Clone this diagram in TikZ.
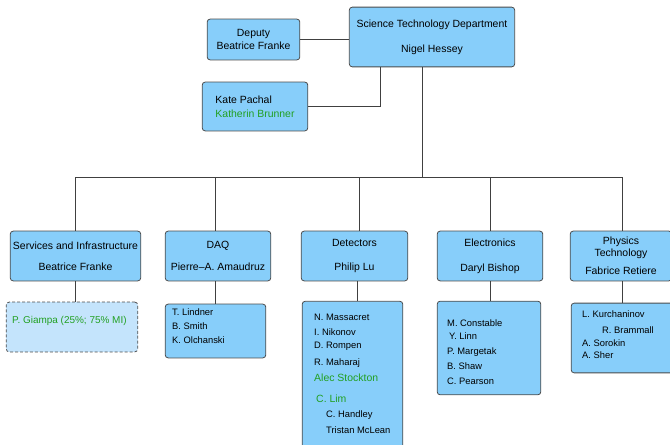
\documentclass[tikz,border=0pt]{standalone}
\usepackage{fontspec}
\setmainfont{Liberation Sans}
\definecolor{boxblue}{RGB}{135,206,250}
\definecolor{paleblue}{RGB}{196,228,252}
\definecolor{staffgreen}{RGB}{34,160,34}
\tikzset{
  unit/.style={draw=black!70, fill=boxblue, rounded corners=3pt, line width=0.8pt,
    inner sep=0pt, align=center, font=\fontsize{10.5}{13}\selectfont},
  guest/.style={unit, fill=paleblue, dashed, dash pattern=on 3pt off 2pt},
  link/.style={draw=black!75, line width=0.8pt},
  member/.style={anchor=west, inner sep=0pt, font=\fontsize{9.4}{11}\selectfont},
  newmember/.style={member, text=staffgreen, font=\fontsize{10.5}{12}\selectfont}
}

\begin{document}
\begin{tikzpicture}[x=1bp, y=-1bp]
        \useasboundingbox (0,0) rectangle (670,445);

        % Top boxes
        \node[unit, minimum width=166, minimum height=60, font=\fontsize{10.5}{25}\selectfont] (std) at (432,37) {Science Technology Department\\Nigel Hessey};
        \node[unit, minimum width=93, minimum height=41] (dep) at (253.5,39.5) {Deputy\\Beatrice Franke};
        \node[unit, minimum width=106, minimum height=49, align=left, font=\fontsize{10.5}{14}\selectfont] (kate) at (255,106.5) {Kate Pachal\\\textcolor{staffgreen}{Katherin Brunner}};

        % Groups
        \node[unit, minimum width=131, minimum height=50, font=\fontsize{10.5}{21}\selectfont] (svc) at (75.5,256) {Services and Infrastructure\\Beatrice Franke};
        \node[unit, minimum width=106, minimum height=50, font=\fontsize{10.5}{22}\selectfont] (daq) at (218,256) {DAQ\\Pierre--A. Amaudruz};
        \node[unit, minimum width=107, minimum height=50, font=\fontsize{10.5}{25}\selectfont] (det) at (354.5,256) {Detectors\\Philip Lu};
        \node[unit, minimum width=106, minimum height=50, font=\fontsize{10.5}{25}\selectfont] (ele) at (490,256) {Electronics\\Daryl Bishop};
        \node[unit, minimum width=102, minimum height=50, font=\fontsize{10.5}{12}\selectfont] (phy) at (621,256) {Physics\\Technology\\[6bp]Fabrice Retiere};

        % Member boxes
        \node[guest, minimum width=132, minimum height=50] (svcm) at (72,327) {};
        \node[unit, minimum width=101, minimum height=54] (daqm) at (215.5,331) {};
        \node[unit, minimum width=101, minimum height=149] (detm) at (352.5,375.5) {};
        \node[unit, minimum width=104, minimum height=94] (elem) at (489,348) {};
        \node[unit, minimum width=102, minimum height=70] (phym) at (622,338) {};

        % Links
        \coordinate (bus) at (422,177);
        \draw[link] (dep.east) -- (dep.east -| std.west);
        \draw[link] (kate.east) -| ([xshift=-52]std.south);
        \draw[link] (std.south -| bus) -- (bus);
        \draw[link] ([xshift=-0.5]svc.north |- bus) -- ([xshift=1]phy.north |- bus);
        \foreach \n/\dx in {svc/-0.5,daq/-3,det/4.5,ele/0,phy/1}
            \draw[link] ([xshift=\dx]\n.north) -- ([xshift=\dx]\n.north |- bus);
        \foreach \n/\dx in {svc/3,daq/0,det/4.5,ele/1,phy/0}
            \draw[link] ([xshift=\dx]\n m.north) -- ([xshift=\dx]\n m.north |- \n.south);

        % Names
        \node[newmember, font=\fontsize{10}{12}\selectfont] (svc-1) at (12,321) {P. Giampa (25\%; 75\% MI)};
        \foreach \y/\t [count=\i] in {312/T. Lindner, 326/B. Smith, 340/K. Olchanski}
            \node[member] (daq-\i) at (172,\y) {\t};
        \foreach \x/\y/\s/\t [count=\i] in {314/317/member/N. Massacret, 314/332/member/I. Nikonov,
            314/346/member/D. Rompen, 314/363/member/R. Maharaj, 314/378/newmember/Alec Stockton,
            316/399/newmember/C. Lim, 326/415/member/C. Handley, 326/430/member/Tristan McLean}
            \node[\s] (det-\i) at (\x,\y) {\t};
        \foreach \x/\y/\t [count=\i] in {447/323/M. Constable, 449/336/Y. Linn, 447/352/P. Margetak,
            447/366/B. Shaw, 447/381/C. Pearson}
            \node[member] (ele-\i) at (\x,\y) {\t};
        \foreach \x/\y/\t [count=\i] in {582/314/L. Kurchaninov, 602/330/R. Brammall,
            582/343/A. Sorokin, 582/355/A. Sher}
            \node[member] (phy-\i) at (\x,\y) {\t};
\end{tikzpicture}
\end{document}
